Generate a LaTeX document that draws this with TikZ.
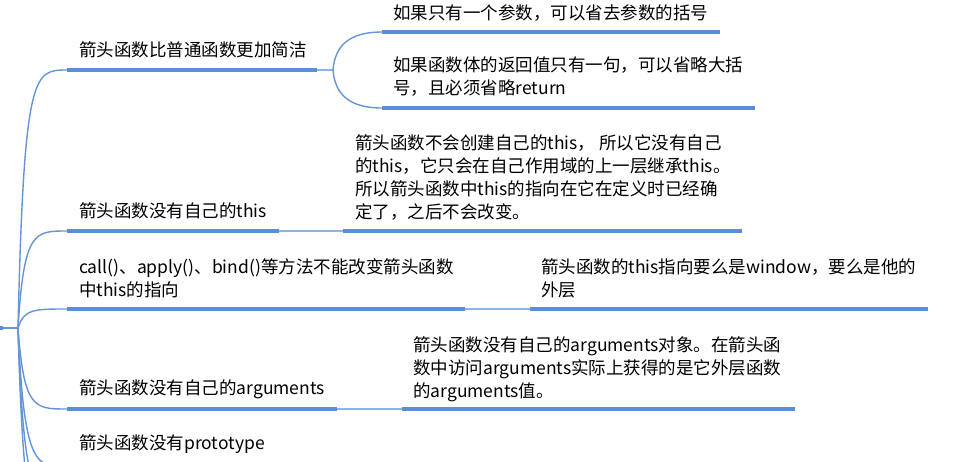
\documentclass[tikz,border=0pt]{standalone}
\usepackage{fontspec}
\setmainfont{Noto Sans CJK SC}
\definecolor{thickblue}{RGB}{91,143,213}
\definecolor{thinblue}{RGB}{141,180,226}
\definecolor{curveblue}{RGB}{100,150,215}
\newcommand\fstrut{\rule{0pt}{17pt}}
\tikzset{
  txt/.style={anchor=north west, inner sep=0pt, align=left,
              font=\fontsize{17.5}{23}\selectfont, text=black},
  uline/.style={draw=thickblue, line width=3.5pt},
  link/.style={draw=thinblue, line width=1.6pt},
  branch/.style={draw=curveblue, line width=1.4pt},
}
\begin{document}
\begin{tikzpicture}[x=1pt,y=-1pt]
\useasboundingbox (0,0) rectangle (968,461);
\fill[white] (0,0) rectangle (968,461);
\clip (0,0) rectangle (968,461);

% coordinates
\coordinate (rootL) at (0,328);
\coordinate (root) at (18,328);
\coordinate (b1s) at (67,70);   \coordinate (b1e) at (317,70);  \coordinate (j1) at (333,70);
\coordinate (s1s) at (382,32);  \coordinate (s1e) at (720,32);
\coordinate (s2s) at (382,108); \coordinate (s2e) at (755,108);
\coordinate (b2s) at (67,231);  \coordinate (b2e) at (279,231);
\coordinate (c2s) at (343,231); \coordinate (c2e) at (742,231);
\coordinate (b3s) at (67,309);  \coordinate (b3e) at (465,309);
\coordinate (c3s) at (530,309); \coordinate (c3e) at (928,309);
\coordinate (b4s) at (67,409);  \coordinate (b4e) at (337,409);
\coordinate (c4s) at (402,409); \coordinate (c4e) at (795,409);
\coordinate (b5s) at (67,467);  \coordinate (b5e) at (300,467);
\coordinate (b6s) at (67,500);
\coordinate (b7s) at (67,540);

% root stub
\draw[draw=curveblue, line width=2pt] (rootL) -- (root);
\fill[thickblue] (0,326) rectangle (3,330);

% main branch curves
\draw[branch] (root) .. controls (24,70)  and (34,70)  .. (b1s);
\draw[branch] (root) .. controls (24,231) and (34,231) .. (b2s);
\draw[branch] (root) .. controls (24,309) and (34,309) .. (b3s);
\draw[branch] (root) .. controls (24,409) and (34,409) .. (b4s);
\draw[branch] (root) .. controls (24,467) and (36,467) .. (b5s);
\draw[branch] (root) .. controls (24,500) and (34,500) .. (b6s);
\draw[branch] (root) .. controls (24,540) and (34,540) .. (b7s);

% branch 1
\draw[uline] (b1s) -- (b1e);
\draw[link] (b1e) -- (j1);
\draw[branch] (j1) .. controls (335,45) and (350,32) .. (s1s);
\draw[branch] (j1) .. controls (335,95) and (350,108) .. (s2s);
\draw[uline] (s1s) -- (s1e);
\draw[uline] (s2s) -- (s2e);

% branch 2
\draw[uline] (b2s) -- (b2e);
\draw[link] (b2e) -- (c2s);
\draw[uline] (c2s) -- (c2e);

% branch 3
\draw[uline] (b3s) -- (b3e);
\draw[link] (b3e) -- (c3s);
\draw[uline] (c3s) -- (c3e);

% branch 4
\draw[uline] (b4s) -- (b4e);
\draw[link] (b4e) -- (c4s);
\draw[uline] (c4s) -- (c4e);

% branch 5
\draw[uline] (b5s) -- (b5e);

% texts
\node[txt] (t1) at (79,39.5) {\fstrut 箭头函数比普通函数更加简洁};
\node[txt] (t11) at (393,2.5) {\fstrut 如果只有一个参数，可以省去参数的括号};
\node[txt] (t12) at (393,54.5) {\fstrut 如果函数体的返回值只有一句，可以省略大括\\号，且必须省略return};
\node[txt] (t2) at (79,200.5) {\fstrut 箭头函数没有自己的this};
\node[txt] (t21) at (355,132.5) {\fstrut 箭头函数不会创建自己的this， 所以它没有自己\\的this，它只会在自己作用域的上一层继承this。\\所以箭头函数中this的指向在它在定义时已经确\\定了，之后不会改变。};
\node[txt] (t3) at (79,256.5) {\fstrut call()、apply()、bind()等方法不能改变箭头函数\\中this的指向};
\node[txt] (t31) at (541,256.5) {\fstrut 箭头函数的this指向要么是window，要么是他的\\外层};
\node[txt] (t4) at (79,377.5) {\fstrut 箭头函数没有自己的arguments};
\node[txt] (t41) at (413,334.5) {\fstrut 箭头函数没有自己的arguments对象。在箭头函\\数中访问arguments实际上获得的是它外层函数\\的arguments值。};
\node[txt] (t5) at (79,432.5) {\fstrut 箭头函数没有prototype};
\end{tikzpicture}
\end{document}
